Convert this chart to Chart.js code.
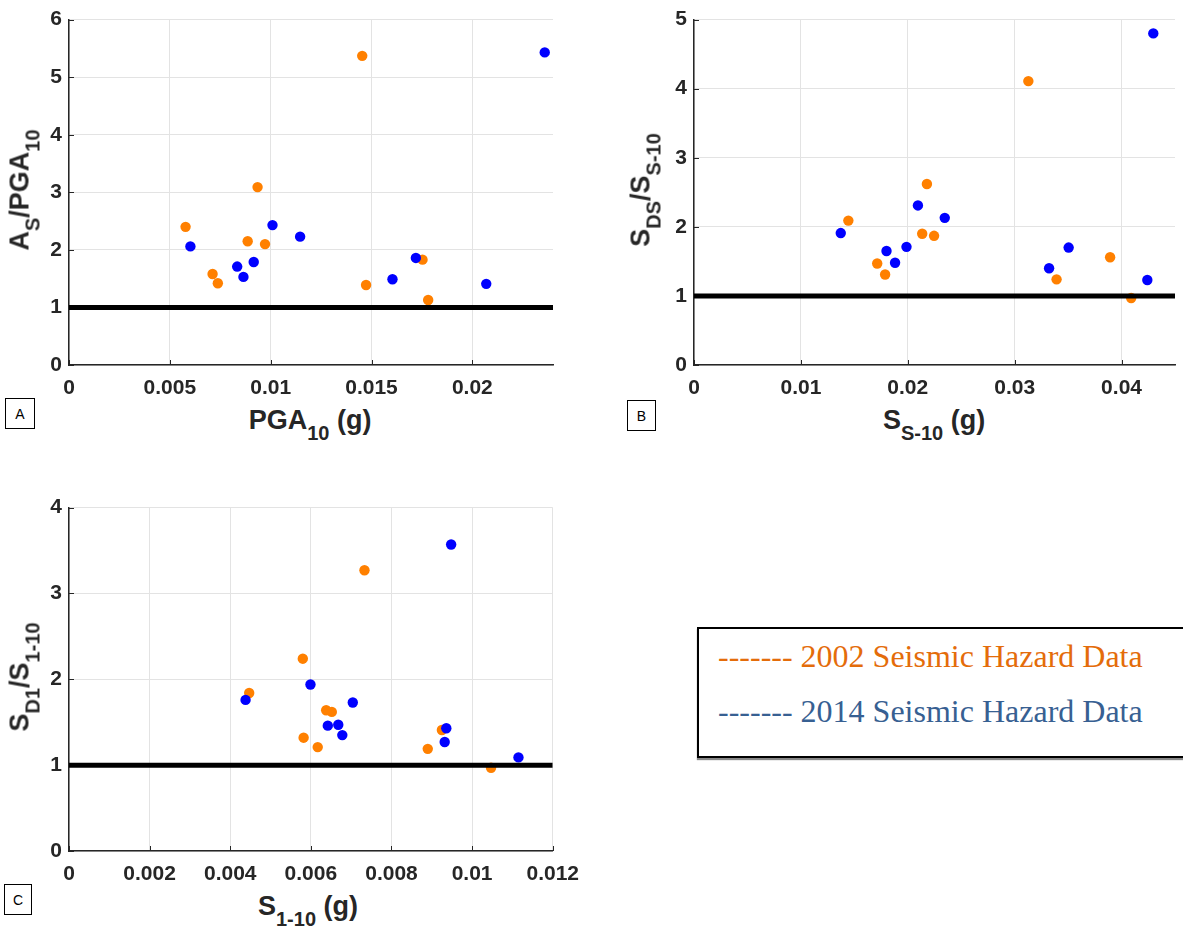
<!DOCTYPE html>
<html>
<head>
<meta charset="utf-8">
<script src="https://cdn.jsdelivr.net/npm/chart.js@4/dist/chart.umd.min.js"></script>
<style>
  body { margin:0; background:#fff; width:1183px; height:930px; overflow:hidden; position:relative;
         font-family:"Liberation Sans", Arial, sans-serif; }
  canvas { position:absolute; }
  .xt, .yt { position:absolute; font-weight:bold; font-size:27px; line-height:27px; white-space:nowrap; color:#262626; }
  .xt { transform:translateX(-50%); }
  .yt { transform:translate(-50%,-50%) rotate(-90deg); }
  .sub { font-size:20px; position:relative; top:11px; }
  .tag { position:absolute; box-sizing:border-box; border:1px solid #000; background:#fff; font-size:14px;
         display:flex; align-items:center; justify-content:center; color:#000; }
  .legend { position:absolute; left:697px; top:627px; width:540px; height:127px; border:2px solid #000;
            box-shadow:0 2px 1px #888; background:#fff; font-family:"Liberation Serif","Times New Roman",serif; font-size:32px; }
  .legend div { position:absolute; left:19px; line-height:32px; white-space:nowrap; }
</style>
</head>
<body>
<canvas id="chartA" width="590" height="395" style="left:0;top:0;width:590px;height:395px"></canvas>
<canvas id="chartB" width="563" height="395" style="left:620px;top:0;width:563px;height:395px"></canvas>
<canvas id="chartC" width="590" height="393" style="left:0;top:488px;width:590px;height:393px"></canvas>

<div class="yt" style="left:21px;top:190px">A<span class="sub">S</span>/PGA<span class="sub">10</span></div>
<div class="xt" style="left:310px;top:407px">PGA<span class="sub">10</span> (g)</div>
<div class="tag" style="left:5px;top:398px;width:30px;height:31px">A</div>

<div class="yt" style="left:642px;top:190px">S<span class="sub">DS</span>/S<span class="sub">S-10</span></div>
<div class="xt" style="left:934px;top:407px">S<span class="sub">S-10</span> (g)</div>
<div class="tag" style="left:627px;top:400px;width:29px;height:31px">B</div>

<div class="yt" style="left:21px;top:677px">S<span class="sub">D1</span>/S<span class="sub">1-10</span></div>
<div class="xt" style="left:308px;top:893px">S<span class="sub">1-10</span> (g)</div>
<div class="tag" style="left:4px;top:884px;width:28px;height:31px">C</div>

<div class="legend">
  <div style="top:11px;color:#e46c0a">------- 2002 Seismic Hazard Data</div>
  <div style="top:66px;color:#376092">------- 2014 Seismic Hazard Data</div>
</div>

<script>
// Series names
const seriesNames = ['2002 Seismic Hazard Data', '2014 Seismic Hazard Data'];
// Ratio of 1 (design value equal to 10%-in-50-year value)
const refRatio = 1;

// Panel A: A_S / PGA_10 versus PGA_10 (g)
const pga10_2002   = [0.00578, 0.00712, 0.00738, 0.00886, 0.00935, 0.00972, 0.01454, 0.01473, 0.01753, 0.01781];
const asRatio_2002 = [2.40, 1.58, 1.42, 2.15, 3.09, 2.10, 5.37, 1.39, 1.83, 1.13];
const pga10_2014   = [0.00602, 0.00834, 0.00865, 0.00916, 0.01009, 0.01146, 0.01604, 0.01720, 0.02069, 0.02359];
const asRatio_2014 = [2.06, 1.71, 1.53, 1.79, 2.43, 2.23, 1.49, 1.86, 1.41, 5.43];
const xRangeA = [0, 0.024];
const yRangeA = [0, 6];
const xTicksA = [0, 0.005, 0.01, 0.015, 0.02];
const yTicksA = [0, 1, 2, 3, 4, 5, 6];

// Panel B: S_DS / S_S-10 versus S_S-10 (g)
const ss10_2002     = [0.01444, 0.01714, 0.01788, 0.02135, 0.02179, 0.02246, 0.03128, 0.03392, 0.03893, 0.04090];
const sdsRatio_2002 = [2.09, 1.47, 1.31, 1.90, 2.62, 1.87, 4.11, 1.24, 1.56, 0.97];
const ss10_2014     = [0.01373, 0.01801, 0.01881, 0.01988, 0.02095, 0.02346, 0.03322, 0.03505, 0.04241, 0.04297];
const sdsRatio_2014 = [1.91, 1.65, 1.48, 1.71, 2.31, 2.13, 1.40, 1.70, 1.23, 4.80];
const xRangeB = [0, 0.045];
const yRangeB = [0, 5];
const xTicksB = [0, 0.01, 0.02, 0.03, 0.04];
const yTicksB = [0, 1, 2, 3, 4, 5];

// Panel C: S_D1 / S_1-10 versus S_1-10 (g)
const s110_2002     = [0.00447, 0.00580, 0.00582, 0.00617, 0.00638, 0.00652, 0.00733, 0.00890, 0.00925, 0.01047];
const sd1Ratio_2002 = [1.84, 2.24, 1.32, 1.21, 1.64, 1.62, 3.27, 1.19, 1.41, 0.97];
const s110_2014     = [0.00438, 0.00599, 0.00642, 0.00668, 0.00678, 0.00704, 0.00932, 0.00936, 0.00948, 0.01115];
const sd1Ratio_2014 = [1.76, 1.94, 1.46, 1.47, 1.35, 1.73, 1.27, 1.43, 3.57, 1.09];
const xRangeC = [0, 0.012];
const yRangeC = [0, 4];
const xTicksC = [0, 0.002, 0.004, 0.006, 0.008, 0.01, 0.012];
const yTicksC = [0, 1, 2, 3, 4];

const COLOR_2002 = '#ff8000';
const COLOR_2014 = '#0000ff';
const AXIS = '#262626';
const GRID = '#e3e3e3';
const tickFont = { family: '"Liberation Sans", Arial, sans-serif', size: 21, weight: 'bold' };

const zip = (xs, ys) => xs.map((x, i) => ({ x, y: ys[i] }));
const fmt = v => String(parseFloat(Number(v).toFixed(6)));

// Short tick marks pointing into the plot area
const innerTicks = {
  id: 'innerTicks',
  beforeDatasetsDraw(chart) {
    const { ctx, chartArea: a, scales: { x, y } } = chart;
    ctx.save();
    ctx.strokeStyle = AXIS;
    ctx.lineWidth = 1;
    ctx.beginPath();
    x.ticks.forEach(t => {
      const px = Math.round(x.getPixelForValue(t.value)) + 0.5;
      ctx.moveTo(px, a.bottom); ctx.lineTo(px, a.bottom - 5);
    });
    y.ticks.forEach(t => {
      const py = Math.round(y.getPixelForValue(t.value)) + 0.5;
      ctx.moveTo(a.left, py); ctx.lineTo(a.left + 5, py);
    });
    ctx.stroke();
    ctx.restore();
  }
};

function makePanel(id, p) {
  return new Chart(document.getElementById(id), {
    type: 'scatter',
    data: {
      datasets: [
        { type: 'line', data: [{ x: p.xRange[0], y: refRatio }, { x: p.xRange[1], y: refRatio }],
          borderColor: '#000', borderWidth: 5, pointRadius: 0, borderCapStyle: 'butt', order: 0 },
        { label: seriesNames[1], data: zip(p.x14, p.y14), backgroundColor: COLOR_2014,
          borderWidth: 0, pointRadius: 5.2, order: 1 },
        { label: seriesNames[0], data: zip(p.x02, p.y02), backgroundColor: COLOR_2002,
          borderWidth: 0, pointRadius: 5.2, order: 2 }
      ]
    },
    options: {
      responsive: false,
      animation: false,
      events: [],
      layout: { padding: p.pad },
      plugins: { legend: { display: false }, tooltip: { enabled: false } },
      scales: {
        x: {
          type: 'linear', min: p.xRange[0], max: p.xRange[1],
          afterBuildTicks: s => { s.ticks = p.xTicks.map(v => ({ value: v })); },
          afterFit: s => { s.height = p.xh; },
          ticks: { padding: 11, color: AXIS, font: tickFont, callback: fmt, maxRotation: 0, autoSkip: false },
          grid: { color: GRID, lineWidth: 1, drawTicks: false },
          border: { color: AXIS, width: 1.5 }
        },
        y: {
          type: 'linear', min: p.yRange[0], max: p.yRange[1],
          afterBuildTicks: s => { s.ticks = p.yTicks.map(v => ({ value: v })); },
          afterFit: s => { s.width = p.yw; },
          ticks: { padding: 7, color: AXIS, font: tickFont, callback: fmt, autoSkip: false },
          grid: { color: GRID, lineWidth: 1, drawTicks: false },
          border: { color: AXIS, width: 1.5 }
        }
      }
    },
    plugins: [innerTicks]
  });
}

makePanel('chartA', {
  x02: pga10_2002, y02: asRatio_2002, x14: pga10_2014, y14: asRatio_2014,
  xRange: xRangeA, yRange: yRangeA, xTicks: xTicksA, yTicks: yTicksA,
  pad: { left: 0, top: 15, right: 37, bottom: 0 }, yw: 69, xh: 30
});
makePanel('chartB', {
  x02: ss10_2002, y02: sdsRatio_2002, x14: ss10_2014, y14: sdsRatio_2014,
  xRange: xRangeB, yRange: yRangeB, xTicks: xTicksB, yTicks: yTicksB,
  pad: { left: 0, top: 15, right: 8, bottom: 0 }, yw: 74, xh: 30
});
makePanel('chartC', {
  x02: s110_2002, y02: sd1Ratio_2002, x14: s110_2014, y14: sd1Ratio_2014,
  xRange: xRangeC, yRange: yRangeC, xTicks: xTicksC, yTicks: yTicksC,
  pad: { left: 0, top: 15, right: 37, bottom: 0 }, yw: 69, xh: 30
});
</script>
</body>
</html>
